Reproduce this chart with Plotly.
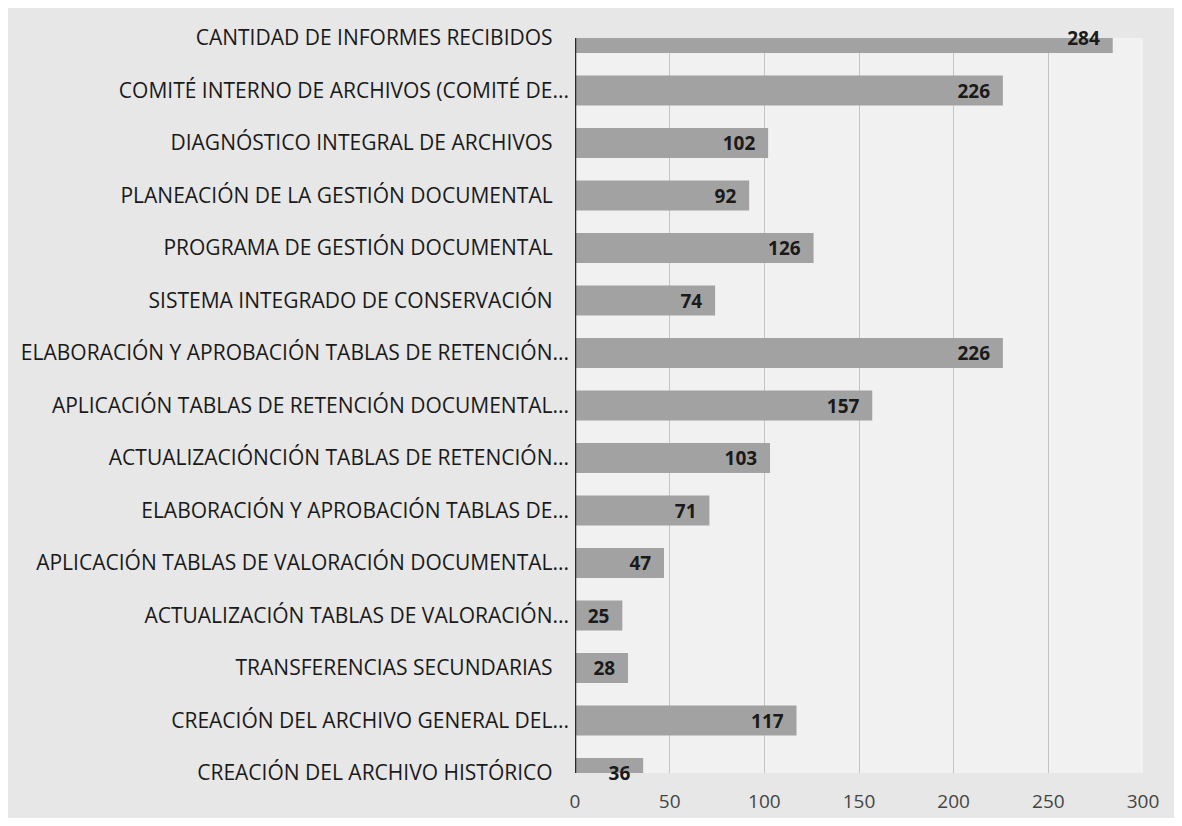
import plotly.graph_objects as go

categories = [
    "CANTIDAD DE INFORMES RECIBIDOS",
    "COMITÉ INTERNO DE ARCHIVOS (COMITÉ DE...",
    "DIAGNÓSTICO INTEGRAL DE ARCHIVOS",
    "PLANEACIÓN DE LA GESTIÓN DOCUMENTAL",
    "PROGRAMA DE GESTIÓN DOCUMENTAL",
    "SISTEMA INTEGRADO DE CONSERVACIÓN",
    "ELABORACIÓN Y APROBACIÓN TABLAS DE RETENCIÓN...",
    "APLICACIÓN TABLAS DE RETENCIÓN DOCUMENTAL...",
    "ACTUALIZACIÓNCIÓN TABLAS DE RETENCIÓN...",
    "ELABORACIÓN Y APROBACIÓN TABLAS DE...",
    "APLICACIÓN TABLAS DE VALORACIÓN DOCUMENTAL...",
    "ACTUALIZACIÓN TABLAS DE VALORACIÓN...",
    "TRANSFERENCIAS SECUNDARIAS",
    "CREACIÓN DEL ARCHIVO GENERAL DEL...",
    "CREACIÓN DEL ARCHIVO HISTÓRICO",
]
values = [284, 226, 102, 92, 126, 74, 226, 157, 103, 71, 47, 25, 28, 117, 36]
x_ticks = [0, 50, 100, 150, 200, 250, 300]

# labels without an ellipsis sit a bit further from the axis in the original
tick_text = [c if c.endswith("...") else c + "\u00a0\u00a0\u00a0" for c in categories]

FONT = "Open Sans"

fig = go.Figure()
fig.add_trace(go.Bar(
    x=values,
    y=categories,
    orientation="h",
    width=0.57,
    marker=dict(color="#a2a2a2", line=dict(width=0)),
    text=[str(v) + "\u00a0\u00a0" for v in values],
    textposition="inside",
    insidetextanchor="end",
    textangle=0,
    cliponaxis=False,
    textfont=dict(family=FONT, size=19, color="#1a1a1a", weight="bold"),
    hoverinfo="skip",
))

fig.update_layout(
    width=1166,
    height=810,
    margin=dict(l=567, r=31, t=30, b=45, autoexpand=False),
    paper_bgcolor="#e7e7e7",
    plot_bgcolor="#f1f1f1",
    showlegend=False,
    font=dict(family=FONT, size=20, color="#1a1a1a"),
    uniformtext=dict(minsize=19, mode="show"),
)
fig.update_xaxes(
    range=[0, 300],
    tickvals=x_ticks,
    ticktext=[str(t) for t in x_ticks],
    showgrid=True,
    gridcolor="#c4c4c4",
    gridwidth=1,
    zeroline=False,
    showline=False,
    automargin=False,
    tickfont=dict(family=FONT, size=19, color="#444444"),
    ticks="",
    ticklabelstandoff=15,
    fixedrange=True,
)
fig.update_yaxes(
    type="category",
    categoryorder="array",
    categoryarray=categories,
    tickvals=categories,
    ticktext=tick_text,
    range=[len(categories) - 1, 0],
    showgrid=False,
    zeroline=False,
    showline=False,
    automargin=False,
    ticks="",
    ticklabelstandoff=5,
    tickfont=dict(family=FONT, size=21, color="#1a1a1a"),
    fixedrange=True,
)
# dark vertical category axis line at x = 0
fig.add_shape(type="line", xref="x", yref="paper", x0=0, x1=0, y0=0, y1=1,
              line=dict(color="#2a2a2a", width=2.5), layer="above")

fig.write_html("out.html")
